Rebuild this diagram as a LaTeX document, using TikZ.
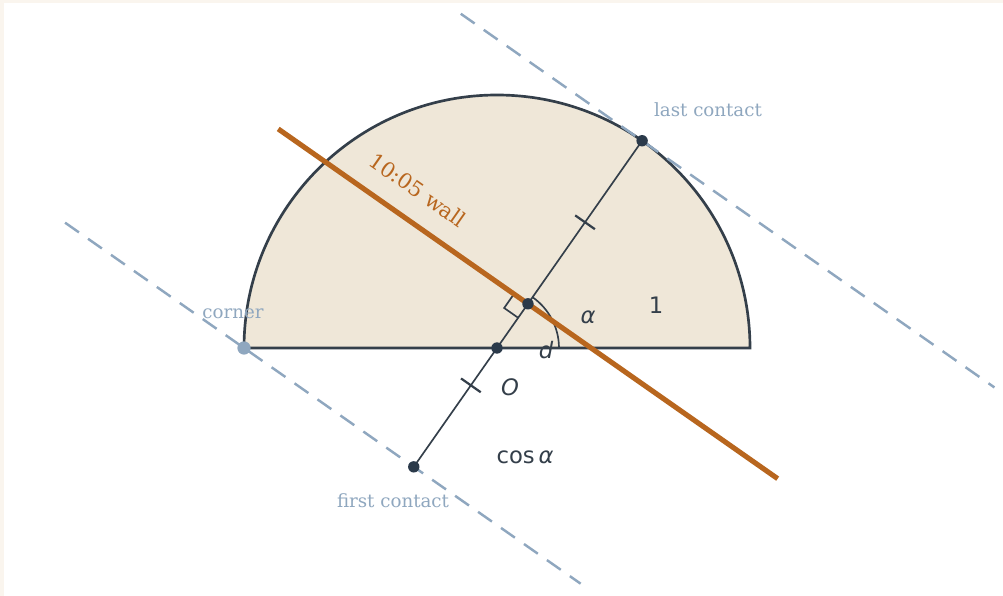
\documentclass[tikz,border=0pt]{standalone}
\usepackage{fontspec}
\setmainfont{DejaVu Serif}
\newfontfamily\symfont{DejaVu Sans}
\usetikzlibrary{calc}
\definecolor{ink}{HTML}{343F4A}
\definecolor{dotc}{HTML}{2B3A4A}
\definecolor{half}{HTML}{EFE7D8}
\definecolor{wallc}{HTML}{B8661E}
\definecolor{dashc}{HTML}{8FA7BF}
\definecolor{edge}{HTML}{FAF5EE}

\begin{document}
\begin{tikzpicture}[
    dot/.style={circle, fill=dotc, inner sep=0pt, minimum size=0.18cm},
    contact/.style={draw=dashc, line width=1.1pt, dash pattern=on 7.6pt off 5pt},
    thinline/.style={draw=ink, line width=0.75pt},
    tick/.style={draw=ink, line width=1pt},
    lbl/.style={text=dashc, font=\fontsize{8.2}{9.8}\selectfont},
    sym/.style={text=ink, font=\symfont\fontsize{10.2}{12}\selectfont}
]
    \useasboundingbox (-7.858,-3.921) rectangle (8.0,5.502);
    \fill[edge] (-7.858,-3.921) rectangle (8.0,5.502);
    \fill[white] (-7.795,-3.921) rectangle (8.0,5.455);

    % points on the half disc (radius 4), alpha = 55
    \coordinate (O) at (0,0);
    \coordinate (corner) at (-4,0);
    \coordinate (last) at (55:4);
    \coordinate (first) at (235:2.294);
    \coordinate (foot) at (55:0.853);
    \coordinate (wallA) at ($(foot)+(145:4.82)$);
    \coordinate (wallB) at ($(foot)+(-35:4.82)$);
    \coordinate (lowA) at ($(first)+(145:6.73)$);
    \coordinate (lowB) at ($(first)+(-35:3.22)$);
    \coordinate (highA) at ($(last)+(145:3.5)$);
    \coordinate (highB) at ($(last)+(-35:6.8)$);
    \coordinate (m1) at ($(first)!0.5!(foot)$);
    \coordinate (m2) at ($(foot)!0.5!(last)$);

    \filldraw[fill=half, draw=ink, line width=1.2pt] (4,0) arc (0:180:4) -- cycle;

    \draw[thinline] (first) -- (last);
    \draw[thinline] (0.98,0) arc (0:55:0.98);
    \draw[thinline] ($(foot)+(235:0.27)$) -- ++(145:0.27) -- ($(foot)+(145:0.27)$);
    \draw[tick] ($(m1)+(145:0.19)$) -- ($(m1)+(-35:0.19)$);
    \draw[tick] ($(m2)+(145:0.19)$) -- ($(m2)+(-35:0.19)$);

    \draw[wallc, line width=2.3pt] (wallA) -- (wallB);
    \draw[contact] (lowA) -- (lowB);
    \draw[contact] (highA) -- (highB);

    \node[dot] at (O) {};
    \node[dot] at (foot) {};
    \node[dot] at (last) {};
    \node[dot] at (first) {};
    \node[circle, fill=dashc, inner sep=0pt, minimum size=0.21cm] at (corner) {};

    \node[lbl] (cornerlbl) at (-4.174,0.538) {corner};
    \node[lbl] (lastlbl) at (3.336,3.763) {last contact};
    \node[lbl] (firstlbl) at (-1.644,-2.419) {first contact};
    \node[text=wallc, rotate=-35, font=\fontsize{9.5}{11}\selectfont] (walllbl) at (-1.249,2.498) {10:05 wall};

    \node[sym] (alphalbl) at (1.44,0.49) {\itshape α};
    \node[sym] (dlbl) at (0.775,-0.03) {\itshape d};
    \node[sym] (Olbl) at (0.205,-0.617) {\itshape O};
    \node[sym] (onelbl) at (2.514,0.68) {1};
    \node[sym] (coslbl) at (0.443,-1.723) {cos\,\itshape α};
\end{tikzpicture}
\end{document}
